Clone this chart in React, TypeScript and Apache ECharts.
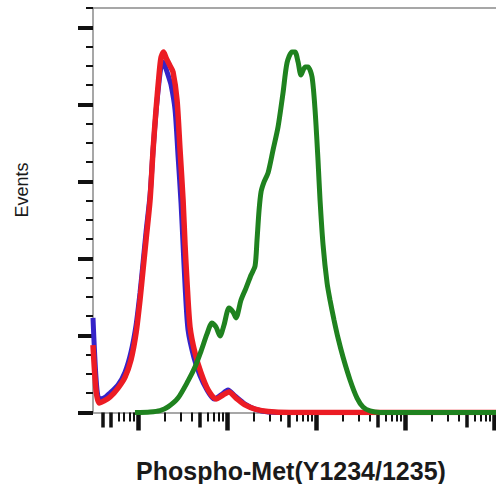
import React, { useEffect, useRef } from "react";
import * as echarts from "echarts";

// x values are log10 of fluorescence intensity (decades), y values are event counts (axis units)
const X_MIN = 0.494;
const X_MAX = 5.022;
const Y_MAX = 21;

const minorMultipliers = [2, 3, 6, 7, 8, 9];
const decades = [0, 1, 2, 3, 4];
const majorDecades = [1, 2, 3, 4, 5];
const yMajorTicks = [0, 4, 8, 12, 16, 20];

const blueCurve: number[][] = [
  [0.494, 4.91], [0.528, 1.79], [0.562, 0.70], [0.618, 0.75], [0.685, 1.01], [0.775, 1.43],
  [0.854, 2.10], [0.921, 3.14], [0.978, 4.54], [1.022, 6.20], [1.056, 7.76], [1.090, 9.37],
  [1.135, 11.29], [1.169, 13.63], [1.202, 15.60], [1.236, 17.16], [1.258, 17.94], [1.281, 18.20],
  [1.303, 17.99], [1.337, 17.52], [1.371, 17.00], [1.416, 15.71], [1.449, 13.37], [1.483, 10.88],
  [1.506, 8.70], [1.528, 6.62], [1.562, 4.28], [1.629, 2.83],
  [1.697, 1.90], [1.775, 1.17], [1.854, 0.70], [1.933, 0.91], [2.011, 1.17], [2.090, 0.86],
  [2.202, 0.44], [2.315, 0.18], [2.461, 0.03], [2.708, 0], [5.022, 0],
];

const redCurve: number[][] = [
  [0.494, 3.50], [0.528, 1.17], [0.562, 0.49], [0.618, 0.60], [0.685, 0.80], [0.775, 1.27],
  [0.854, 1.84], [0.921, 2.73], [0.978, 4.13], [1.022, 5.84], [1.056, 7.40], [1.090, 8.96],
  [1.135, 11.03], [1.169, 13.63], [1.202, 15.71], [1.236, 17.52], [1.258, 18.41], [1.287, 18.72],
  [1.315, 18.41], [1.360, 17.99], [1.393, 17.68], [1.438, 16.23], [1.472, 13.63], [1.506, 11.03],
  [1.528, 8.70], [1.551, 6.72], [1.584, 4.44], [1.640, 3.09], [1.708, 2.05], [1.787, 1.17],
  [1.876, 0.70], [1.955, 0.91], [2.022, 1.06], [2.101, 0.75], [2.202, 0.39], [2.315, 0.18],
  [2.461, 0.05], [2.708, 0], [5.022, 0],
];

const greenCurve: number[][] = [
  [0.966, 0], [1.135, 0.03], [1.247, 0.10], [1.337, 0.29], [1.449, 0.75], [1.562, 1.64],
  [1.640, 2.36], [1.708, 3.19], [1.775, 4.08], [1.831, 4.65], [1.876, 4.44], [1.921, 3.97],
  [1.966, 4.54], [2.022, 5.43], [2.067, 5.22], [2.101, 4.91], [2.157, 5.84], [2.213, 6.46],
  [2.270, 7.14], [2.315, 7.61], [2.337, 8.96], [2.360, 10.51], [2.382, 11.45], [2.416, 11.97],
  [2.461, 12.44], [2.517, 13.63], [2.573, 14.82], [2.629, 16.59], [2.674, 18.15], [2.730, 18.72],
  [2.764, 18.72], [2.798, 18.20], [2.831, 17.52], [2.876, 17.94], [2.910, 17.94], [2.955, 17.42],
  [2.989, 15.71], [3.022, 13.11], [3.045, 11.03], [3.079, 8.70], [3.124, 6.72], [3.157, 5.84],
  [3.202, 4.80], [3.247, 3.87], [3.303, 2.88], [3.382, 1.69], [3.461, 0.75], [3.528, 0.29],
  [3.607, 0.08], [3.719, 0], [5.022, 0],
];

const xTitle = "Phospho-Met(Y1234/1235)";
const yTitle = "Events";

function tickValues(mults: number[]): number[] {
  const out: number[] = [];
  decades.forEach((d) => {
    mults.forEach((m) => {
      const v = d + Math.log10(m);
      if (v >= X_MIN && v <= X_MAX) out.push(v);
    });
  });
  return out;
}

export default function App() {
  const ref = useRef<HTMLDivElement>(null);

  useEffect(() => {
    if (!ref.current) return;
    const chart = echarts.init(ref.current, undefined, { renderer: "svg" });
    const baseX = {
      type: "value" as const,
      min: X_MIN,
      max: X_MAX,
      axisLabel: { show: false },
      splitLine: { show: false },
    };
    const baseY = {
      type: "value" as const,
      min: 0,
      max: Y_MAX,
      axisLabel: { show: false },
      splitLine: { show: false },
    };
    const mediumTicks = [Math.log10(4), ...tickValues([5])];
    const minorTicks = tickValues(minorMultipliers).concat(tickValues([4]).filter((v) => v > 1));
    chart.setOption({
      animation: false,
      backgroundColor: "#ffffff",
      grid: { left: 93, right: 0, top: 8, bottom: 71.5, containLabel: false },
      xAxis: [
        {
          ...baseX,
          position: "bottom",
          axisLine: { show: true, onZero: false, lineStyle: { color: "#8a8a8a", width: 1.5 } },
          axisTick: { show: true, customValues: minorTicks, length: 9, lineStyle: { color: "#111", width: 2 } },
        },
        {
          ...baseX,
          position: "bottom",
          axisLine: { show: false, onZero: false },
          axisTick: { show: true, customValues: mediumTicks, length: 15, lineStyle: { color: "#111", width: 3.5 } },
        },
        {
          ...baseX,
          position: "bottom",
          axisLine: { show: false, onZero: false },
          axisTick: { show: true, customValues: majorDecades, length: 18, lineStyle: { color: "#111", width: 4.5 } },
        },
        {
          ...baseX,
          position: "top",
          axisLine: { show: true, onZero: false, lineStyle: { color: "#8a8a8a", width: 1.5 } },
          axisTick: { show: false },
        },
      ],
      yAxis: [
        {
          ...baseY,
          interval: 1,
          position: "left",
          axisLine: { show: true, onZero: false, lineStyle: { color: "#8a8a8a", width: 1.5 } },
          axisTick: { show: true, length: 7, lineStyle: { color: "#111", width: 2 } },
        },
        {
          ...baseY,
          position: "left",
          axisLine: { show: false, onZero: false },
          axisTick: { show: true, customValues: yMajorTicks, length: 15, lineStyle: { color: "#111", width: 4 } },
        },
      ],
      series: [
        {
          type: "line",
          data: blueCurve,
          symbol: "none",
          smooth: 0.25,
          lineStyle: { color: "#3523c8", width: 5 },
          xAxisIndex: 0,
          yAxisIndex: 0,
        },
        {
          type: "line",
          data: redCurve,
          symbol: "none",
          smooth: 0.25,
          lineStyle: { color: "#ec1c24", width: 5.5 },
          xAxisIndex: 0,
          yAxisIndex: 0,
        },
        {
          type: "line",
          data: greenCurve,
          symbol: "none",
          smooth: 0.25,
          lineStyle: { color: "#1f821f", width: 5 },
          xAxisIndex: 0,
          yAxisIndex: 0,
        },
      ],
      graphic: [
        {
          type: "text",
          x: 22,
          y: 190,
          rotation: Math.PI / 2,
          style: {
            text: yTitle,
            fill: "#1a1a1a",
            font: "18px 'Liberation Sans', Arial, sans-serif",
            align: "center",
            verticalAlign: "middle",
          },
        },
        {
          type: "text",
          x: 291,
          y: 471,
          style: {
            text: xTitle,
            fill: "#1a1a1a",
            font: "bold 25px 'Liberation Sans', Arial, sans-serif",
            align: "center",
            verticalAlign: "middle",
          },
        },
      ],
    });
    return () => chart.dispose();
  }, []);

  return (
    <div
      ref={ref}
      style={{ position: "absolute", left: 0, top: 0, width: 496, height: 484 }}
    />
  );
}
